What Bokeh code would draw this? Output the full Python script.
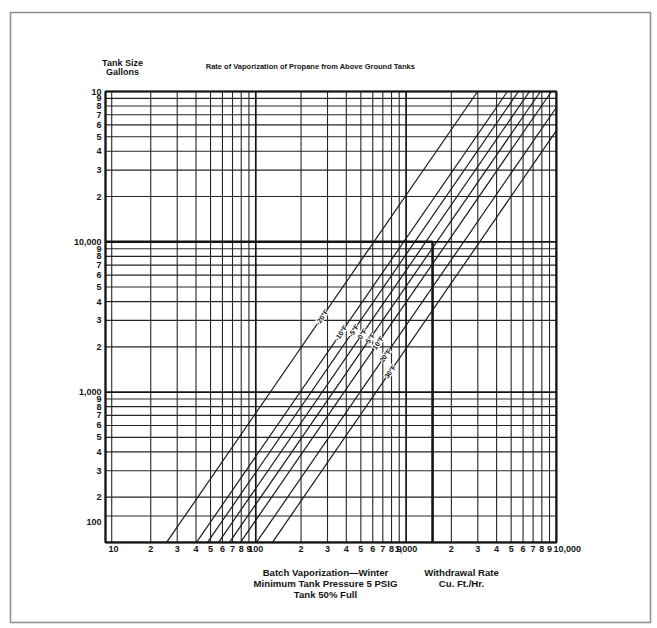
import math
from bokeh.plotting import figure
from bokeh.models import Label, Range1d
from bokeh.core.properties import value
from bokeh.embed import file_html
from bokeh.resources import INLINE

# ---- data ----
temps = ["-20°F", "-10°F", "-5°F", "0°F", "5°F", "10°F", "20°F", "30°F"]
rate_at_100_gal = [25.5, 40.3, 47.7, 56.5, 66.8, 79.1, 101, 129]             # cu.ft/hr at 100 gal
rate_at_100000_gal = [2990, 4720, 5590, 6620, 7830, 9270, 11840, 15120]     # cu.ft/hr at 100,000 gal
label_gallons = [3150, 2480, 2570, 2440, 2290, 2130, 1750, 1370]            # where each line is labelled

x_ticks = [10, 20, 30, 40, 50, 60, 70, 80, 90,
           100, 200, 300, 400, 500, 600, 700, 800, 900,
           1000, 2000, 3000, 4000, 5000, 6000, 7000, 8000, 9000, 10000]
x_tick_labels = ["10", "2", "3", "4", "5", "6", "7", "8", "9",
                 "100", "2", "3", "4", "5", "6", "7", "8", "9",
                 "1,000", "2", "3", "4", "5", "6", "7", "8", "9", "10,000"]
y_ticks = [100, 200, 300, 400, 500, 600, 700, 800, 900,
           1000, 2000, 3000, 4000, 5000, 6000, 7000, 8000, 9000,
           10000, 20000, 30000, 40000, 50000, 60000, 70000, 80000, 90000, 100000]
y_tick_labels = ["100", "2", "3", "4", "5", "6", "7", "8", "9",
                 "1,000", "2", "3", "4", "5", "6", "7", "8", "9",
                 "10,000", "2", "3", "4", "5", "6", "7", "8", "9", "10"]
x_extra_grid = [11]
y_extra_grid = [150]
x_decades = [10, 100, 1000, 10000]
y_decades = [100, 1000, 10000, 100000]
example_tank = 10000
example_rate = 1500

FONT = "Liberation Sans"
INK = "#141414"

# ---- page geometry (pixels) ----
PX_DEC = 150.3                  # pixels per decade on both axes
BOX_L, BOX_T = 105, 91          # pixel position of the chart corner (10, 100000)
FR_L, FR_T, FR_R, FR_B = 10, 12, 650, 622   # outer grey frame


def lx(px):
    return 1 + (px - BOX_L) / PX_DEC


def ly(py):
    return 5 - (py - BOX_T) / PX_DEC


p = figure(width=FR_R + 2, height=FR_B + 2, x_axis_type="log", y_axis_type="log",
           x_range=Range1d(10 ** lx(FR_L), 10 ** lx(FR_R)),
           y_range=Range1d(10 ** ly(FR_B), 10 ** ly(FR_T)),
           x_axis_location=None, y_axis_location=None,
           min_border_left=FR_L, min_border_top=FR_T, min_border_right=2, min_border_bottom=2,
           toolbar_location=None, output_backend="svg")
p.grid.visible = False
p.background_fill_color = "white"
p.border_fill_color = "white"
p.outline_line_color = "#8c8c8c"
p.outline_line_width = 1.5

x_lo, x_hi = x_ticks[0], x_ticks[-1]
y_lo, y_hi = y_ticks[0], y_ticks[-1]

# grid lines
xg_minor = [t for t in x_ticks if t not in x_decades] + x_extra_grid
yg_minor = [t for t in y_ticks if t not in y_decades] + y_extra_grid
p.segment(x0=xg_minor, y0=[y_lo] * len(xg_minor), x1=xg_minor, y1=[y_hi] * len(xg_minor),
          line_color="#262626", line_width=1.1)
p.segment(x0=[x_lo] * len(yg_minor), y0=yg_minor, x1=[x_hi] * len(yg_minor), y1=yg_minor,
          line_color="#262626", line_width=1.1)
p.segment(x0=x_decades, y0=[y_lo] * 4, x1=x_decades, y1=[y_hi] * 4, line_color=INK, line_width=1.7)
p.segment(x0=[x_lo] * 4, y0=y_decades, x1=[x_hi] * 4, y1=y_decades, line_color=INK, line_width=1.7)

# tick labels
common = dict(text_font=value(FONT), text_font_style="bold", text_color=INK)
p.text(x=x_ticks[1:-1], y=[y_lo] * (len(x_ticks) - 2), text=x_tick_labels[1:-1],
       y_offset=4, text_align="center", text_baseline="top", text_font_size=value("9px"), **common)
p.text(x=[x_ticks[0]], y=[y_lo], text=[x_tick_labels[0]], x_offset=3, y_offset=4,
       text_align="left", text_baseline="top", text_font_size=value("9px"), **common)
p.text(x=[x_ticks[-1]], y=[y_lo], text=[x_tick_labels[-1]], x_offset=-3, y_offset=4,
       text_align="left", text_baseline="top", text_font_size=value("9px"), **common)
p.text(x=[x_lo] * (len(y_ticks) - 1), y=y_ticks[1:], text=y_tick_labels[1:],
       x_offset=-4, text_align="right", text_baseline="middle", text_font_size=value("9px"), **common)
p.text(x=[x_lo], y=[y_ticks[0]], text=[y_tick_labels[0]], x_offset=-4, y_offset=-20,
       text_align="right", text_baseline="middle", text_font_size=value("9px"), **common)

# example: 10,000 gallon tank
p.line([x_lo, example_rate], [example_tank, example_tank], line_color=INK, line_width=2.6)
p.line([example_rate, example_rate], [y_lo, example_tank], line_color=INK, line_width=2.6)

# temperature lines (clipped to the chart box)
for t, a, b in zip(temps, rate_at_100_gal, rate_at_100000_gal):
    s = 3.0 / (math.log10(b) - math.log10(a))
    xe = min(b, x_hi)
    ye = 10 ** (2 + s * (math.log10(xe) - math.log10(a)))
    p.line([a, xe], [y_lo, ye], line_color="#1a1a1a", line_width=1.2)

# chart border
p.quad(left=[x_lo], right=[x_hi], bottom=[y_lo], top=[y_hi], fill_color=None,
       line_color=INK, line_width=2)

# labels along the lines
for t, a, b, yy in zip(temps, rate_at_100_gal, rate_at_100000_gal, label_gallons):
    s = 3.0 / (math.log10(b) - math.log10(a))
    xx = 10 ** (math.log10(a) + math.log10(yy / y_lo) / s)
    p.add_layout(Label(x=xx, y=yy, text=t, angle=math.atan(s),
                       text_font=FONT, text_font_style="bold",
                       text_font_size="7px", text_align="center", text_baseline="middle",
                       background_fill_color="white", text_color=INK))


def txt(px, py, s, align="center", size="9px"):
    p.text(x=[10 ** lx(px)], y=[10 ** ly(py)], text=[s], text_align=align,
           text_baseline="middle", text_font_size=value(size), **common)


txt(122, 62, "Tank Size")
txt(122, 71, "Gallons")
txt(310, 66, "Rate of Vaporization of Propane from Above Ground Tanks", size="7.5px")
txt(325, 572, "Batch Vaporization—Winter", size="9.6px")
txt(325, 583, "Minimum Tank Pressure 5 PSIG", size="9.6px")
txt(325, 594, "Tank 50% Full", size="9.6px")
txt(461, 572, "Withdrawal Rate", size="9.6px")
txt(461, 583, "Cu. Ft./Hr.", size="9.6px")

open("out.html", "w").write(file_html(p, INLINE))
